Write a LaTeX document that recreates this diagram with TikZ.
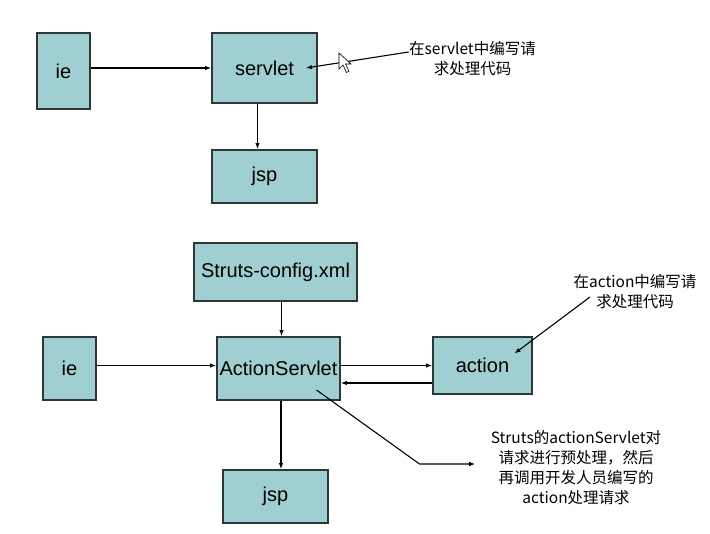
\documentclass[tikz,border=0pt]{standalone}
\usepackage{fontspec}
\setmainfont{Liberation Sans}
\newfontfamily\cjk{Noto Sans CJK SC}
\usetikzlibrary{arrows.meta}
\definecolor{boxfill}{RGB}{159,207,208}
\definecolor{boxline}{RGB}{45,55,55}

\begin{document}
\begin{tikzpicture}[x=1pt, y=-1pt, line width=1.1pt, >={Latex[length=6pt,width=4.5pt]},
    main/.style = {draw=boxline, fill=boxfill, line width=1.8pt, inner sep=0pt, font=\fontsize{20}{24}\selectfont},
    note/.style = {align=center, inner sep=0pt, font=\cjk\fontsize{15.5}{20}\selectfont}]
        \useasboundingbox (0,0) rectangle (710,534);

        % servlet only
        \node[main, minimum width=53pt, minimum height=76pt] (IE1) at (63.5,71) {ie};
        \node[main, minimum width=105pt, minimum height=70pt] (SV) at (264.5,68) {servlet};
        \node[main, minimum width=105pt, minimum height=53pt] (JSP1) [below of = SV, node distance=108.5pt] {jsp};
        \node[note] (N1) at (472.5,59) {在servlet中编写请\\求处理代码};

        \draw[->] (IE1.east |- SV.west) -- (SV.west);
        \draw[->] ([xshift=-7pt]SV.south) -- ([xshift=-7pt]JSP1.north);
        \draw[->] ([yshift=7pt]N1.west) -- ([xshift=-12pt]SV.east);

        % mouse pointer
        \draw[line width=0.6pt, fill=white] (339,53) -- ++(0,16) -- ++(4,-4) -- ++(3.5,7.5) -- ++(2.5,-1.2) -- ++(-3.5,-7.3) -- ++(5.5,0) -- cycle;

        % struts
        \node[main, minimum width=163pt, minimum height=58pt] (CFG) at (275.5,272) {Struts-config.xml};
        \node[main, minimum width=53pt, minimum height=63pt] (IE2) at (69.5,368.5) {ie};
        \node[main, minimum width=123pt, minimum height=63pt] (AS) at (278.5,368.5) {ActionServlet};
        \node[main, minimum width=99pt, minimum height=57pt] (ACT) at (482.5,365.5) {action};
        \node[main, minimum width=105pt, minimum height=53pt] (JSP2) at (275.5,496.5) {jsp};
        \node[note] (N2) at (635,292) {在action中编写请\\求处理代码};
        \node[note] (N3) at (576,468) {Struts的actionServlet对\\请求进行预处理，然后\\再调用开发人员编写的\\action处理请求};

        \draw[->] ([xshift=6pt]CFG.south) -- ([xshift=6pt]CFG.south |- AS.north);
        \draw[->] ([yshift=3pt]IE2.east) -- ([yshift=3pt]AS.west);
        \draw[->] (AS.east |- ACT.west) -- (ACT.west);
        \draw[->] ([yshift=-17.5pt]ACT.west) -- ([yshift=-17.5pt]ACT.west -| AS.east);
        \draw[->] ([xshift=2.5pt]AS.south) -- ([xshift=2.5pt]AS.south |- JSP2.north);
        \draw[->] ([xshift=17pt,yshift=-5pt]N2.west) -- ([xshift=32pt,yshift=12pt]ACT.center);
        \draw[->] ([xshift=38pt,yshift=-21.5pt]AS.center) -- ++(103,74) coordinate (bend) -- ([xshift=-15pt]N3.west |- bend);
    \end{tikzpicture}
\end{document}
